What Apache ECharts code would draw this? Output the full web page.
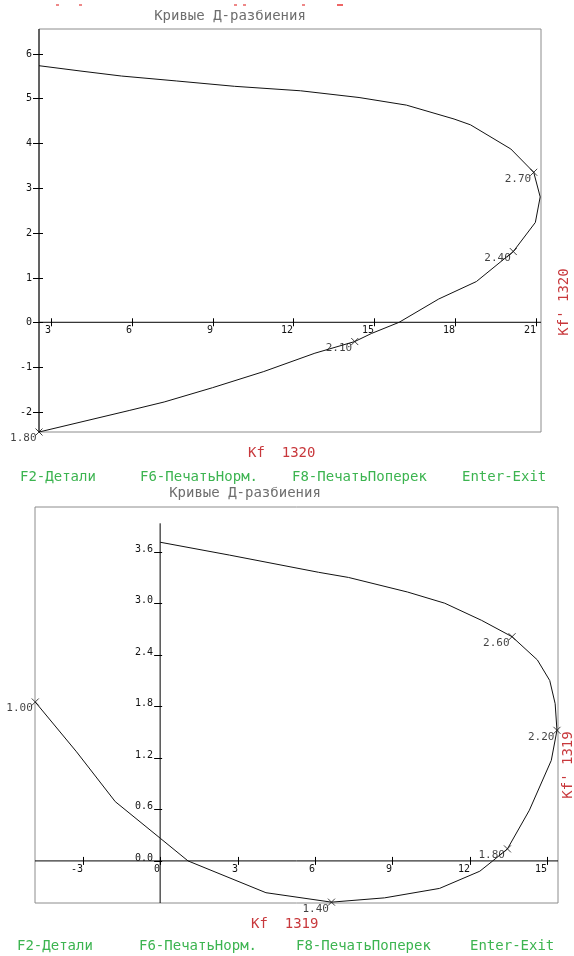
<!DOCTYPE html>
<html>
<head>
<meta charset="utf-8">
<script src="https://cdn.jsdelivr.net/npm/echarts@6/dist/echarts.min.js"></script>
<style>
  html, body { margin: 0; padding: 0; background: #fff; }
  #chart { width: 574px; height: 956px; }
</style>
</head>
<body>
<div id="chart"></div>
<script>
// ---- Panel 1: Kf 1320 ----
const P1_X = [2.55, 5.9, 7.2, 9.0, 10.9, 12.8, 14.28, 14.9, 15.93, 17.4, 18.8, 20.17, 20.99, 21.17, 20.93, 20.08, 18.58, 17.97, 16.2, 14.44, 12.27, 9.82, 7.65, 5.61, 4.11, 2.55];
const P1_Y = [-2.45, -1.97, -1.78, -1.46, -1.10, -0.69, -0.43, -0.25, 0, 0.52, 0.91, 1.58, 2.23, 2.80, 3.35, 3.87, 4.41, 4.54, 4.85, 5.02, 5.17, 5.27, 5.39, 5.50, 5.61, 5.73];
const P1_MARK_X = [2.55, 14.28, 20.17, 20.93];
const P1_MARK_Y = [-2.45, -0.43, 1.58, 3.35];
const P1_MARK_LABELS = ['1.80', '2.10', '2.40', '2.70'];
const P1_XTICKS = [3, 6, 9, 12, 15, 18, 21];
const P1_XLABELS = ['3', '6', '9', '12', '15', '18', '21'];
const P1_YTICKS = [-2, -1, 0, 1, 2, 3, 4, 5, 6];
const P1_YLABELS = ['-2', '-1', '0', '1', '2', '3', '4', '5', '6'];
const P1_XRANGE = [2.55, 21.2];
const P1_YRANGE = [-2.45, 6.55];
const P1_KF = '1320';

// ---- Panel 2: Kf 1319 ----
const P2_X = [-4.84, -3.24, -1.74, 0.02, 1.08, 4.1, 6.64, 8.7, 10.83, 12.39, 12.89, 13.46, 14.31, 15.16, 15.38, 15.31, 15.1, 14.62, 13.64, 12.46, 11.03, 9.59, 7.3, 6.14, 2.69, 0];
const P2_Y = [1.85, 1.27, 0.69, 0.26, 0, -0.37, -0.48, -0.43, -0.32, -0.12, 0.0, 0.14, 0.59, 1.17, 1.52, 1.83, 2.10, 2.34, 2.61, 2.80, 3.0, 3.13, 3.30, 3.36, 3.56, 3.71];
const P2_MARK_X = [-4.84, 6.64, 13.46, 15.38, 13.64, 7.3];
const P2_MARK_Y = [1.85, -0.48, 0.14, 1.52, 2.61, 3.30];
const P2_MARK_LABELS = ['1.00', '1.40', '1.80', '2.20', '2.60', '3.00'];
const P2_XTICKS = [-3, 0, 3, 6, 9, 12, 15];
const P2_XLABELS = ['-3', '0', '3', '6', '9', '12', '15'];
const P2_YTICKS = [0, 0.6, 1.2, 1.8, 2.4, 3.0, 3.6];
const P2_YLABELS = ['0.0', '0.6', '1.2', '1.8', '2.4', '3.0', '3.6'];
const P2_XRANGE = [-4.85, 15.42];
const P2_YRANGE = [-0.49, 4.12];
const P2_YAXIS_TOP = 3.93;
const P2_KF = '1319';

const TITLE = 'Кривые Д-разбиения';
const MENU = ['F2-Детали', 'F6-ПечатьНорм.', 'F8-ПечатьПоперек', 'Enter-Exit'];

const MONO = '"DejaVu Sans Mono", "Liberation Mono", monospace';
const RED = '#c8383c';
const GREEN = '#3cb450';
const crisp = v => Math.round(v) + 0.5;

const zip = (xs, ys) => xs.map((x, i) => [x, ys[i]]);

// X-shaped marker drawn as a stroked path
const CROSS = 'path://M0,0L10,10M10,0L0,10';

function xTickSeries(idx, ticks, labels, style) {
  return {
    type: 'custom', xAxisIndex: idx, yAxisIndex: idx, clip: false, silent: true, z: 5,
    data: ticks.map(v => [v, 0]),
    renderItem: (params, api) => {
      const p = api.coord([api.value(0), api.value(1)]);
      const x = crisp(p[0]), y = p[1];
      return {
        type: 'group', children: [
          { type: 'line', shape: { x1: x, y1: y - style.up, x2: x, y2: y + style.down },
            style: { stroke: '#000', lineWidth: 1 } },
          { type: 'text', x: x - 0.5, y: y + style.ty,
            style: { text: labels[params.dataIndex], align: 'right', verticalAlign: 'top',
                     font: '10px ' + MONO, fill: '#111' } }
        ]
      };
    }
  };
}

function yTickSeries(idx, ticks, labels, axisX, style) {
  return {
    type: 'custom', xAxisIndex: idx, yAxisIndex: idx, clip: false, silent: true, z: 5,
    data: ticks.map(v => [axisX, v]),
    renderItem: (params, api) => {
      const p = api.coord([api.value(0), api.value(1)]);
      const x = p[0], y = crisp(p[1]);
      return {
        type: 'group', children: [
          { type: 'line', shape: { x1: x - style.left, y1: y, x2: x + style.right, y2: y },
            style: { stroke: '#000', lineWidth: 1 } },
          { type: 'text', x: x - style.left - 1, y: y + style.ty,
            style: { text: labels[params.dataIndex], align: 'right', verticalAlign: style.va,
                     font: '10px ' + MONO, fill: '#111' } }
        ]
      };
    }
  };
}

function axisLine(idx, pts) {
  return {
    type: 'line', xAxisIndex: idx, yAxisIndex: idx, data: pts, symbol: 'none',
    clip: false, silent: true, z: 4,
    lineStyle: { color: '#000', width: 1 }
  };
}

function curve(idx, xs, ys) {
  return {
    type: 'line', xAxisIndex: idx, yAxisIndex: idx, data: zip(xs, ys),
    symbol: 'none', smooth: false, clip: false, z: 6,
    lineStyle: { color: '#111', width: 1 }
  };
}

function markers(idx, xs, ys, labels, hideLast) {
  return {
    type: 'scatter', xAxisIndex: idx, yAxisIndex: idx, clip: false, z: 7,
    data: xs.map((x, i) => {
      const item = { value: [x, ys[i]], name: labels[i] };
      if (hideLast && i === xs.length - 1) item.symbol = 'none';
      return item;
    }),
    symbol: CROSS, symbolSize: 7,
    itemStyle: { color: 'rgba(0,0,0,0)', borderColor: '#111', borderWidth: 1 },
    label: {
      show: true, position: 'left', distance: 0, offset: [1.5, 6.5],
      formatter: p => p.name, color: '#111', fontFamily: MONO, fontSize: 11
    }
  };
}

const axisCommon = {
  type: 'value', scale: true,
  axisLine: { show: false }, axisTick: { show: false },
  axisLabel: { show: false }, splitLine: { show: false }
};

const option = {
  animation: false,
  backgroundColor: '#fff',
  grid: [
    { left: 39, top: 29, width: 502, height: 403, show: true, borderColor: '#8c8c8c', borderWidth: 1, backgroundColor: 'transparent' },
    { left: 35, top: 507, width: 523, height: 396, show: true, borderColor: '#8c8c8c', borderWidth: 1, backgroundColor: 'transparent' }
  ],
  xAxis: [
    Object.assign({}, axisCommon, { gridIndex: 0, min: P1_XRANGE[0], max: P1_XRANGE[1] }),
    Object.assign({}, axisCommon, { gridIndex: 1, min: P2_XRANGE[0], max: P2_XRANGE[1] })
  ],
  yAxis: [
    Object.assign({}, axisCommon, { gridIndex: 0, min: P1_YRANGE[0], max: P1_YRANGE[1] }),
    Object.assign({}, axisCommon, { gridIndex: 1, min: P2_YRANGE[0], max: P2_YRANGE[1] })
  ],
  series: [
    // panel 1 axes
    axisLine(0, [[P1_XRANGE[0], 0], [P1_XRANGE[1], 0]]),
    axisLine(0, [[P1_XRANGE[0], P1_YRANGE[0]], [P1_XRANGE[0], P1_YRANGE[1]]]),
    xTickSeries(0, P1_XTICKS, P1_XLABELS, { up: 4, down: 4, ty: 3 }),
    yTickSeries(0, P1_YTICKS, P1_YLABELS, P1_XRANGE[0], { left: 6, right: 4, ty: 0, va: 'middle' }),
    curve(0, P1_X, P1_Y),
    markers(0, P1_MARK_X, P1_MARK_Y, P1_MARK_LABELS, false),
    // panel 2 axes
    axisLine(1, [[P2_XRANGE[0], 0], [P2_XRANGE[1], 0]]),
    axisLine(1, [[0, P2_YRANGE[0]], [0, P2_YAXIS_TOP]]),
    xTickSeries(1, P2_XTICKS, P2_XLABELS, { up: 4, down: 4, ty: 3 }),
    yTickSeries(1, P2_YTICKS, P2_YLABELS, 0, { left: 6, right: 2, ty: 2, va: 'bottom' }),
    curve(1, P2_X, P2_Y),
    markers(1, P2_MARK_X, P2_MARK_Y, P2_MARK_LABELS, true)
  ],
  graphic: [
    // faint remnants of the status line above the first panel
    { type: 'rect', shape: { x: 56, y: 4, width: 3, height: 2 }, style: { fill: '#e88' } },
    { type: 'rect', shape: { x: 79, y: 4, width: 3, height: 2 }, style: { fill: '#e88' } },
    { type: 'rect', shape: { x: 234, y: 4, width: 3, height: 2 }, style: { fill: '#e88' } },
    { type: 'rect', shape: { x: 243, y: 4, width: 3, height: 2 }, style: { fill: '#e88' } },
    { type: 'rect', shape: { x: 302, y: 4, width: 3, height: 2 }, style: { fill: '#e88' } },
    { type: 'rect', shape: { x: 337, y: 4, width: 6, height: 2 }, style: { fill: '#e66' } },

    // panel 1 captions
    { type: 'text', x: 230, y: 16, style: { text: TITLE, font: '14px ' + MONO, fill: '#6e6e6e', align: 'center', verticalAlign: 'middle' } },
    { type: 'text', x: 564, y: 302, rotation: Math.PI / 2, style: { text: "Kf' " + P1_KF, font: '14px ' + MONO, fill: RED, align: 'center', verticalAlign: 'middle' } },
    { type: 'text', x: 248, y: 453, style: { text: 'Kf  ' + P1_KF, font: '14px ' + MONO, fill: RED, align: 'left', verticalAlign: 'middle' } },
    { type: 'text', x: 20, y: 477, style: { text: MENU[0], font: '14px ' + MONO, fill: GREEN, verticalAlign: 'middle' } },
    { type: 'text', x: 140, y: 477, style: { text: MENU[1], font: '14px ' + MONO, fill: GREEN, verticalAlign: 'middle' } },
    { type: 'text', x: 292, y: 477, style: { text: MENU[2], font: '14px ' + MONO, fill: GREEN, verticalAlign: 'middle' } },
    { type: 'text', x: 462, y: 477, style: { text: MENU[3], font: '14px ' + MONO, fill: GREEN, verticalAlign: 'middle' } },

    // panel 2 captions
    { type: 'text', x: 245, y: 493, style: { text: TITLE, font: '14px ' + MONO, fill: '#6e6e6e', align: 'center', verticalAlign: 'middle' } },
    { type: 'text', x: 568, y: 765, rotation: Math.PI / 2, style: { text: "Kf' " + P2_KF, font: '14px ' + MONO, fill: RED, align: 'center', verticalAlign: 'middle' } },
    { type: 'text', x: 251, y: 924, style: { text: 'Kf  ' + P2_KF, font: '14px ' + MONO, fill: RED, align: 'left', verticalAlign: 'middle' } },
    { type: 'text', x: 17, y: 946, style: { text: MENU[0], font: '14px ' + MONO, fill: GREEN, verticalAlign: 'middle' } },
    { type: 'text', x: 139, y: 946, style: { text: MENU[1], font: '14px ' + MONO, fill: GREEN, verticalAlign: 'middle' } },
    { type: 'text', x: 296, y: 946, style: { text: MENU[2], font: '14px ' + MONO, fill: GREEN, verticalAlign: 'middle' } },
    { type: 'text', x: 470, y: 946, style: { text: MENU[3], font: '14px ' + MONO, fill: GREEN, verticalAlign: 'middle' } }
  ]
};

const chart = echarts.init(document.getElementById('chart'), null, { renderer: 'canvas' });
chart.setOption(option);
</script>
</body>
</html>
